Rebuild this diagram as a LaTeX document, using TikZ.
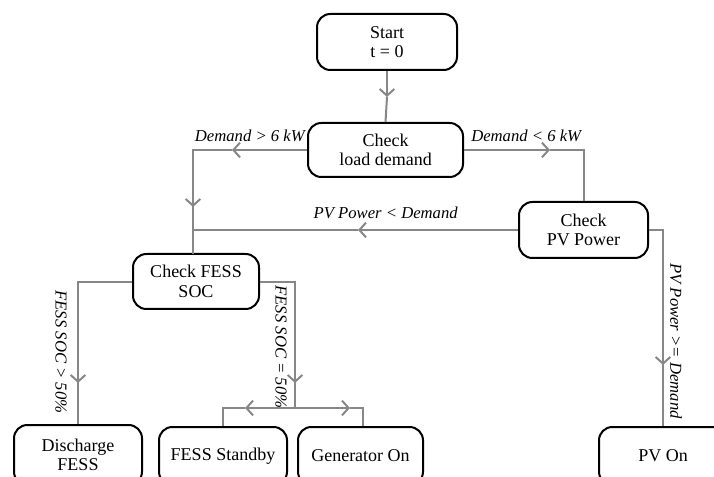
\documentclass[tikz,border=0pt]{standalone}
\usepackage{fontspec}
\setmainfont{Liberation Serif}
\usetikzlibrary{arrows.meta}
\definecolor{linegray}{RGB}{135,135,135}
\begin{document}
\begin{tikzpicture}[x=0.75pt,y=-0.75pt,
  box/.style={draw=black, line width=1.5pt, rounded corners=10pt, align=center,
    font=\fontsize{13.5}{14.5}\selectfont, inner sep=2pt},
  conn/.style={draw=linegray, line width=1.5pt},
  arr/.style={conn, -{Straight Barb[length=5pt,width=11pt]}},
  lab/.style={font=\fontsize{12.5}{14.5}\selectfont\itshape, inner sep=0pt}]
\useasboundingbox (0,0) rectangle (714,477);
\clip (0,0) rectangle (714,477);

% nodes
\node[box, minimum width=105pt, minimum height=42pt] (start) at (387,42) {Start\\t = 0};
\node[box, minimum width=116.25pt, minimum height=40.5pt] (load) at (385.5,150) {Check\\load demand};
\node[box, minimum width=96.75pt, minimum height=42pt] (pv) at (583.5,230) {Check\\PV Power};
\node[box, minimum width=94.5pt, minimum height=41.25pt] (soc) at (196,281.5) {Check FESS\\SOC};
\node[box, minimum width=96pt, minimum height=45pt] (dis) at (78,455) {Discharge\\FESS};
\node[box, minimum width=96pt, minimum height=43.5pt] (stb) at (223,456) {FESS Standby};
\node[box, minimum width=93.75pt, minimum height=43.5pt] (gen) at (360.5,456) {Generator On};
\node[box, minimum width=96pt, minimum height=43.5pt] (pvon) at (663,456) {PV On};

% coordinates
\coordinate (a1) at (387,97);
\coordinate (lL) at (193,150);
\coordinate (a2) at (232,150);
\coordinate (a3) at (193,207);
\coordinate (sT) at (193,254);
\coordinate (j1) at (193,230);
\coordinate (a4) at (358,230);
\coordinate (lR) at (583.5,150);
\coordinate (a5) at (550,150);
\coordinate (sL) at (78,282);
\coordinate (a6) at (78,383);
\coordinate (sR) at (295,282);
\coordinate (a7) at (295,383);
\coordinate (sB) at (295,408);
\coordinate (bL) at (223,408);
\coordinate (bR) at (363,408);
\coordinate (a8) at (245,408);
\coordinate (a9) at (350,408);
\coordinate (pR) at (663,230);
\coordinate (a10) at (663,365);

% connectors
\draw[arr] (start.south) -- (a1);
\draw[conn] (a1) -- (load.north);

\draw[arr] (load.west) -- (a2);
\draw[conn] (a2) -- (lL) -- (a3);
\draw[arr] (lL) -- (a3);
\draw[conn] (a3) -- (sT);

\draw[arr] (pv.west) -- (a4);
\draw[conn] (a4) -- (j1);

\draw[arr] (load.east) -- (a5);
\draw[conn] (a5) -- (lR) -- (pv.north);

\draw[conn] (soc.west |- sL) -- (sL) -- (a6);
\draw[arr] (sL) -- (a6);
\draw[conn] (a6) -- (dis.north);

\draw[conn] (soc.east |- sR) -- (sR) -- (a7);
\draw[arr] (sR) -- (a7);
\draw[conn] (a7) -- (sB);
\draw[arr] (sB) -- (a8);
\draw[conn] (a8) -- (bL) -- (stb.north);
\draw[arr] (sB) -- (a9);
\draw[conn] (a9) -- (bR) -- (bR |- gen.north);

\draw[conn] (pv.east |- pR) -- (pR) -- (a10);
\draw[arr] (pR) -- (a10);
\draw[conn] (a10) -- (pvon.north);

% labels
\node[lab, anchor=base east] (t1) at (305,142) {Demand > 6 kW};
\node[lab, anchor=base west] (t2) at (471,142) {Demand < 6 kW};
\node[lab, anchor=base east] (t3) at (458,219) {PV Power < Demand};
\node[lab, rotate=-90] (t4) at (61,352) {FESS SOC > 50\%};
\node[lab, rotate=-90] (t5) at (281,347) {FESS SOC = 50\%};
\node[lab, rotate=-90] (t6) at (676,341) {PV Power >= Demand};
\end{tikzpicture}
\end{document}
